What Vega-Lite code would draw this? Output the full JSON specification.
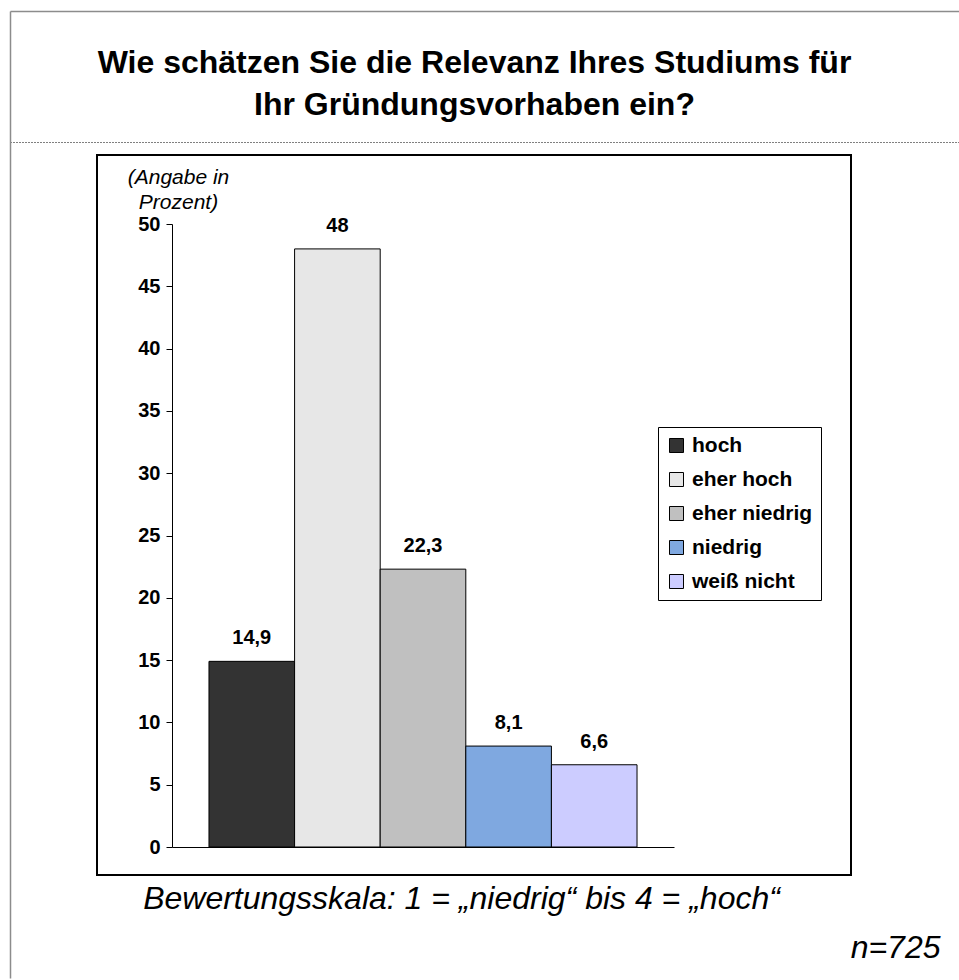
{
  "$schema": "https://vega.github.io/schema/vega-lite/v6.json",
  "background": "white",
  "padding": {"left": 10, "top": 11, "right": 0, "bottom": 0},
  "config": {
    "font": "Liberation Sans",
    "locale": {"number": {"decimal": ",", "thousands": ".", "grouping": [3], "currency": ["", " €"]}},
    "axis": {"grid": false}
  },
  "width": 754,
  "height": 720,
  "view": {"stroke": "black", "strokeWidth": 2, "fill": "white"},
  "resolve": {"scale": {"x": "independent", "y": "independent"}},
  "layer": [
    {
      "data": {
        "values": [
          {"kategorie": "hoch", "wert": 14.9},
          {"kategorie": "eher hoch", "wert": 48},
          {"kategorie": "eher niedrig", "wert": 22.3},
          {"kategorie": "niedrig", "wert": 8.1},
          {"kategorie": "weiß nicht", "wert": 6.6}
        ]
      },
      "encoding": {
        "x": {
          "field": "kategorie",
          "type": "nominal",
          "sort": null,
          "scale": {"range": [75, 577], "paddingInner": 0, "paddingOuter": 0.432},
          "axis": {
            "orient": "bottom",
            "offset": -28,
            "grid": false,
            "ticks": false,
            "labels": false,
            "domainColor": "black",
            "domainWidth": 1,
            "title": "Bewertungsskala: 1 = „niedrig“ bis 4 = „hoch“",
            "titleFont": "Liberation Sans",
            "titleFontSize": 32,
            "titleFontStyle": "italic",
            "titleFontWeight": "normal",
            "titleColor": "black",
            "titleX": 364,
            "titleAlign": "center",
            "titlePadding": 36
          }
        },
        "y": {
          "field": "wert",
          "type": "quantitative",
          "scale": {"domain": [0, 50], "range": [692, 69], "nice": false},
          "axis": {
            "orient": "left",
            "offset": -75,
            "grid": false,
            "values": [0, 5, 10, 15, 20, 25, 30, 35, 40, 45, 50],
            "format": "d",
            "domainColor": "black",
            "tickColor": "black",
            "tickSize": 6,
            "labelFont": "Liberation Sans",
            "labelFontSize": 20,
            "labelFontWeight": "bold",
            "labelColor": "black",
            "labelPadding": 6,
            "title": ["(Angabe in", "Prozent)"],
            "titleAngle": 0,
            "titleX": 6,
            "titleY": 28,
            "titleAlign": "center",
            "titleBaseline": "alphabetic",
            "titleFont": "Liberation Sans",
            "titleFontSize": 21,
            "titleFontStyle": "italic",
            "titleFontWeight": "normal",
            "titleColor": "black",
            "titleLineHeight": 25
          }
        }
      },
      "layer": [
        {
          "mark": {"type": "bar", "stroke": "black", "strokeWidth": 1},
          "encoding": {
            "color": {
              "field": "kategorie",
              "type": "nominal",
              "sort": null,
              "scale": {
                "domain": ["hoch", "eher hoch", "eher niedrig", "niedrig", "weiß nicht"],
                "range": ["#333333", "#e7e7e7", "#c0c0c0", "#7fa8e0", "#ccccff"]
              },
              "legend": {
                "orient": "none",
                "legendX": 561,
                "legendY": 272,
                "title": null,
                "strokeColor": "black",
                "fillColor": "white",
                "padding": 8,
                "symbolType": "square",
                "symbolSize": 196,
                "symbolStrokeColor": "black",
                "symbolStrokeWidth": 1,
                "symbolOpacity": 1,
                "labelFont": "Liberation Sans",
                "labelFontSize": 21,
                "labelFontWeight": "bold",
                "labelColor": "black",
                "labelOffset": 5,
                "rowPadding": 12
              }
            }
          }
        },
        {
          "mark": {"type": "text", "baseline": "middle", "dy": -23, "font": "Liberation Sans", "fontSize": 20, "fontWeight": "bold", "color": "black"},
          "encoding": {
            "text": {"field": "wert", "type": "quantitative", "format": "~g"}
          }
        }
      ]
    },
    {
      "data": {"values": []},
      "mark": {"type": "point", "opacity": 0},
      "encoding": {
        "x": {
          "field": "trennlinie",
          "type": "quantitative",
          "scale": {"domain": [0, 1], "range": [-87, 863], "nice": false, "zero": false},
          "axis": {
            "orient": "top",
            "offset": 13,
            "grid": false,
            "ticks": false,
            "labels": false,
            "domainColor": "black",
            "domainWidth": 1,
            "domainDash": [1, 2],
            "title": ["Wie schätzen Sie die Relevanz Ihres Studiums für", "Ihr Gründungsvorhaben ein?"],
            "titleFont": "Liberation Sans",
            "titleFontSize": 32,
            "titleFontWeight": "bold",
            "titleColor": "black",
            "titleLineHeight": 42,
            "titleX": 377,
            "titleY": -70,
            "titleAlign": "center",
            "titleBaseline": "alphabetic"
          }
        },
        "y": {
          "field": "rahmen",
          "type": "quantitative",
          "scale": {"domain": [0, 1], "range": [823, -144], "nice": false, "zero": false},
          "axis": {
            "orient": "left",
            "offset": 87,
            "grid": false,
            "ticks": false,
            "labels": false,
            "domainColor": "#8c8c8c",
            "domainWidth": 1.5,
            "title": "n=725",
            "titleAngle": 0,
            "titleX": 930,
            "titleY": 802,
            "titleAlign": "right",
            "titleBaseline": "alphabetic",
            "titleFont": "Liberation Sans",
            "titleFontSize": 32,
            "titleFontStyle": "italic",
            "titleFontWeight": "normal",
            "titleColor": "black"
          }
        }
      }
    },
    {
      "data": {"values": []},
      "mark": {"type": "point", "opacity": 0},
      "encoding": {
        "x": {
          "field": "rahmen_oben",
          "type": "quantitative",
          "scale": {"domain": [0, 1], "range": [-87, 863], "nice": false, "zero": false},
          "axis": {
            "orient": "top",
            "offset": 144,
            "grid": false,
            "ticks": false,
            "labels": false,
            "domainColor": "#8c8c8c",
            "domainWidth": 1.5,
            "title": null
          }
        }
      }
    }
  ]
}
